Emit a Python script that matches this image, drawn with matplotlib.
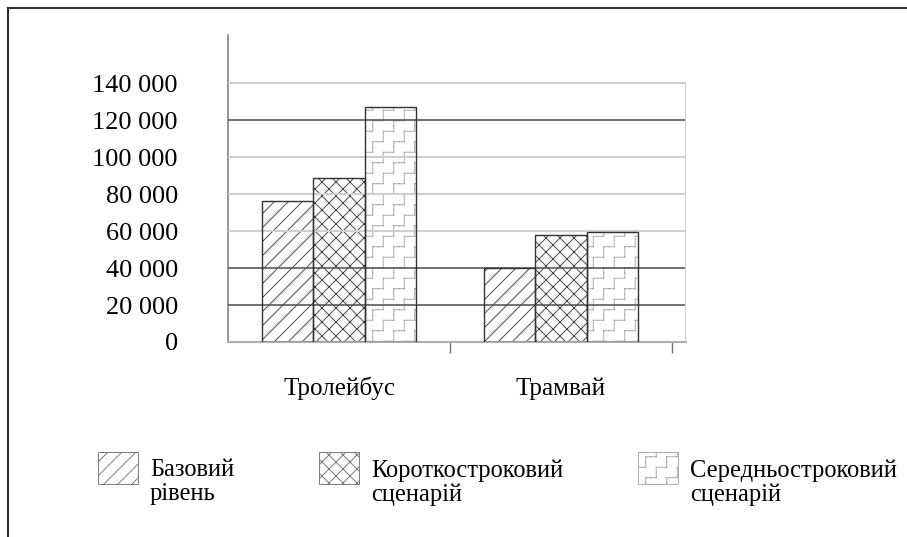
import numpy as np
import matplotlib
matplotlib.use("Agg")
import matplotlib.pyplot as plt
from matplotlib import hatch as mhatch
from matplotlib.path import Path
from matplotlib.patches import Rectangle
from matplotlib.lines import Line2D

# data
categories = ["Тролейбус", "Трамвай"]
series_names = ["Базовий\nрівень", "Короткостроковий\nсценарій", "Середньостроковий\nсценарій"]
base_level = [76000, 40000]
short_term = [88500, 58000]
mid_term = [127000, 59500]
yticks = [0, 20000, 40000, 60000, 80000, 100000, 120000, 140000]
ytick_labels = ["0", "20 000", "40 000", "60 000", "80 000", "100 000", "120 000", "140 000"]


# staircase hatch, used in place of the '*' stars pattern
class StairHatch(mhatch.HatchPatternBase):
    def __init__(self, hatch, density):
        self.num = hatch.count('*') * 4
        self.num_vertices = self.num * self.num * 12
        self.filled = False
        self.should_stroke = True

    def set_vertices_and_codes(self, vertices, codes):
        segs = [((0.25, 0.25), (0.25, 0.75)),
                ((0.25, 0.75), (0.75, 0.75)),
                ((0.75, 0.75), (0.75, 1.0)),
                ((0.75, 0.0), (0.75, 0.25)),
                ((0.75, 0.25), (1.0, 0.25)),
                ((0.0, 0.25), (0.25, 0.25))]
        k = 0
        n = self.num
        for i in range(n):
            for j in range(n):
                for a, b in segs:
                    vertices[k] = [(a[0] + i) / n, (a[1] + j) / n]
                    vertices[k + 1] = [(b[0] + i) / n, (b[1] + j) / n]
                    codes[k] = Path.MOVETO
                    codes[k + 1] = Path.LINETO
                    k += 2


mhatch._hatch_types = [t for t in mhatch._hatch_types if t is not mhatch.Stars] + [StairHatch]

plt.rcParams['font.family'] = ['Liberation Serif', 'DejaVu Serif']
plt.rcParams['hatch.linewidth'] = 0.8

DPI = 84
fig = plt.figure(figsize=(907 / DPI, 537 / DPI), dpi=DPI)
ax = fig.add_axes([228 / 907, 195 / 537, 458 / 907, 307 / 537])

x = np.arange(len(categories))
w = 0.23
hatches = ['//', 'xx', '*']
hatch_colors = ['#444444', '#444444', '#a8a8a8']
series = [base_level, short_term, mid_term]
for k, vals in enumerate(series):
    pos = x + (k - 1) * w
    ax.bar(pos, vals, w, color='white', edgecolor=hatch_colors[k], linewidth=0,
           hatch=hatches[k], zorder=2)
    ax.bar(pos, vals, w, fill=False, edgecolor='#333333', linewidth=1.2, zorder=4)

# gridlines
grid_colors = ['#aaaaaa', '#555555', '#555555', '#cfcfcf', '#cfcfcf', '#cfcfcf', '#555555', '#cfcfcf']
for yv, gc in zip(yticks[1:], grid_colors[1:]):
    ax.axhline(yv, color=gc, lw=1.4 if gc == '#555555' else 1.8, zorder=3)

ax.set_xlim(-0.5, 1.563)
ax.set_ylim(0, 166000)
ax.vlines(ax.get_xlim()[1], 0, yticks[-1], color='#cfcfcf', lw=1.8, zorder=3)

for s in ['top', 'right']:
    ax.spines[s].set_visible(False)
ax.spines['left'].set_color('#777777')
ax.spines['left'].set_linewidth(1.3)
ax.spines['bottom'].set_color('#b0b0b0')
ax.spines['bottom'].set_linewidth(1.8)

ax.set_yticks(yticks)
ax.set_yticklabels(ytick_labels, fontsize=22.5)
ax.tick_params(axis='y', length=0, pad=43)

ax.set_xticks(x)
ax.set_xticklabels(categories, fontsize=21.5)
ax.tick_params(axis='x', which='major', length=0, pad=30)
ax.set_xticks([0.5, 1.5], minor=True)
ax.tick_params(axis='x', which='minor', length=9, width=1.2, color='#777777', direction='out')

# legend drawn by hand
leg_x = [98, 319, 638]
for k in range(3):
    px = leg_x[k]
    fig.add_artist(Rectangle((px / 907, 1 - 484 / 537), 40 / 907, 32 / 537,
                             transform=fig.transFigure, facecolor='white',
                             edgecolor=hatch_colors[k] if k == 2 else '#777777',
                             hatch=hatches[k], lw=0.8))
    fig.text((px + 52) / 907, 1 - 459 / 537, series_names[k], fontsize=21,
             ha='left', va='top', linespacing=1.1)

# outer frame
fig.add_artist(Line2D([8 / 907, 8 / 907], [0, 1 - 8 / 537], transform=fig.transFigure,
                      color='#333333', lw=1.8))
fig.add_artist(Line2D([8 / 907, 1], [1 - 8 / 537, 1 - 8 / 537], transform=fig.transFigure,
                      color='#333333', lw=1.8))

fig.savefig("out.png", dpi=DPI)
